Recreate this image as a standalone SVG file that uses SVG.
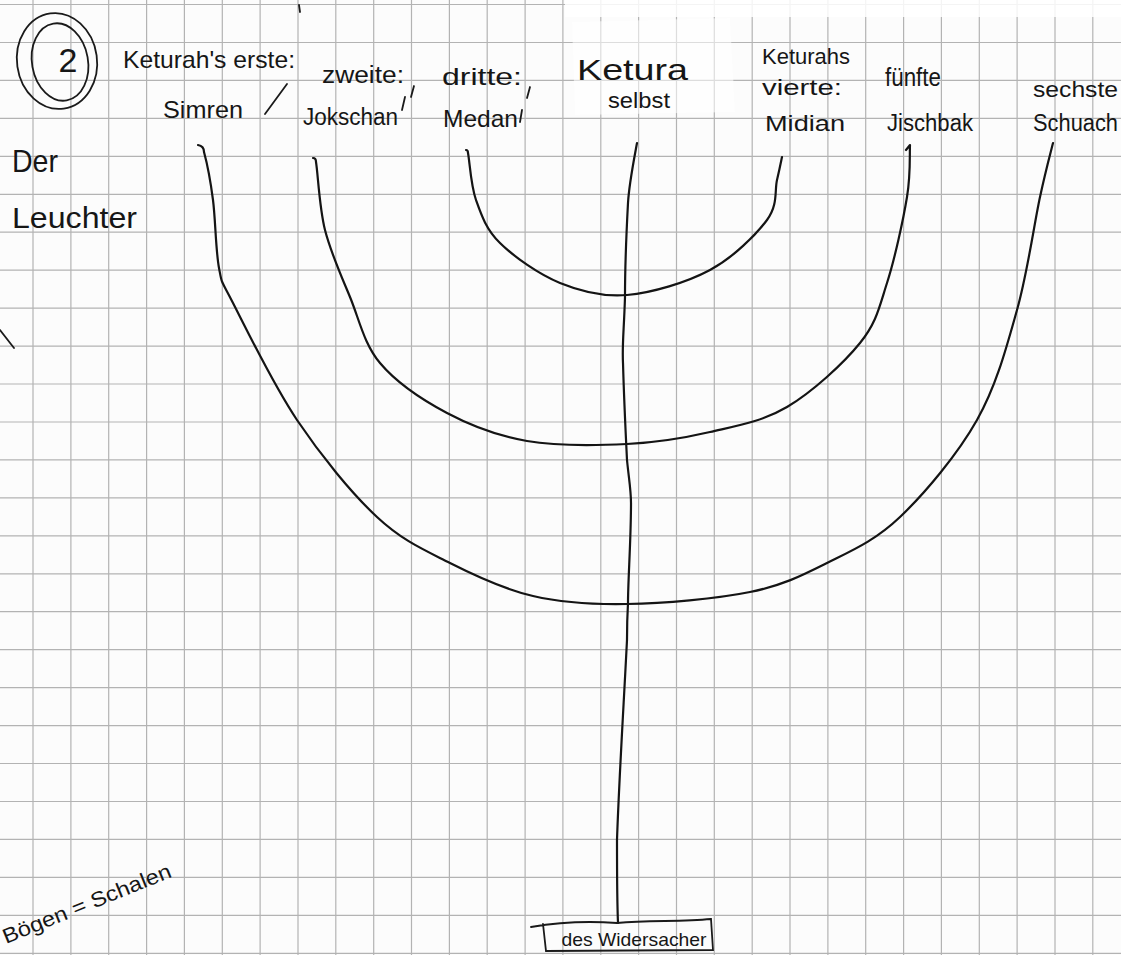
<svg xmlns="http://www.w3.org/2000/svg" width="1121" height="955" viewBox="0 0 1121 955">
<style>
.grid{fill:none;stroke:#b3b3b3;stroke-width:1.2}
.ink{fill:none;stroke:#141414;stroke-width:2.2;stroke-linecap:round;stroke-linejoin:round}
.pen{fill:none;stroke:#1a1a1a;stroke-width:1.8;stroke-linecap:round}
.t{font-family:"Liberation Sans","DejaVu Sans",sans-serif;fill:#161616}
</style>
<rect x="0" y="0" width="1121" height="955" fill="#fcfcfc"/>
<path class="grid" d="M33,0V955M70.9,0V955M108.7,0V955M146.6,0V955M184.4,0V955M222.3,0V955M260.1,0V955M298,0V955M335.8,0V955M373.7,0V955M411.5,0V955M449.4,0V955M487.2,0V955M525.1,0V955M562.9,0V955M600.8,0V955M638.6,0V955M676.5,0V955M714.3,0V955M752.2,0V955M790,0V955M827.9,0V955M865.7,0V955M903.6,0V955M941.4,0V955M979.3,0V955M1017.1,0V955M1055,0V955M1092.8,0V955
M0,4.5H1121M0,42.5H1121M0,80.4H1121M0,118.4H1121M0,156.3H1121M0,194.3H1121M0,232.2H1121M0,270.2H1121M0,308.1H1121M0,346.1H1121M0,384H1121M0,422H1121M0,459.9H1121M0,497.9H1121M0,535.8H1121M0,573.8H1121M0,611.7H1121M0,649.7H1121M0,687.6H1121M0,725.6H1121M0,763.5H1121M0,801.5H1121M0,839.4H1121M0,877.4H1121M0,915.3H1121M0,953.3H1121"/>
<rect x="565" y="0" width="556" height="17" fill="#ffffff" opacity="0.85"/>
<path d="M572,22 L730,18 L735,112 L575,115 Z" fill="#ffffff" opacity="0.55"/>

<g id="connectors">
<path id="outer-arc" class="ink" d="M198,145 Q204,146 204,152 C206.5,161.2 210.5,180.7 213,200 C215.5,219.3 215.7,250.8 219,268 C222.3,285.2 220,277.7 233,303 C246,328.3 273,384.3 297,420 C321,455.7 351.5,493.2 377,517 C402.5,540.8 424,549.8 450,563 C476,576.2 503.5,589.2 533,596 C562.5,602.8 590.8,604.7 627,604 C663.2,603.3 716.7,598.8 750,592 C783.3,585.2 802,575.5 827,563 C852,550.5 875,540.8 900,517 C925,493.2 957.5,454.5 977,420 C996.5,385.5 1006.5,347.2 1017,310 C1027.5,272.8 1034,224.8 1040,197 C1046,169.2 1050.8,152 1053,143"/>
<path id="middle-arc" class="ink" d="M313,158 Q316,158 316,162 C318,174 319.3,207.5 325,230 C330.7,252.5 340.8,274.8 350,297 C359.2,319.2 363.8,343.7 380,363 C396.2,382.3 422.5,400 447,413 C471.5,426 497,435.8 527,441 C557,446.2 596.5,445.5 627,444 C657.5,442.5 683.3,438.2 710,432 C736.7,425.8 762,421.8 787,407 C812,392.2 843.3,363.7 860,343 C876.7,322.3 879.2,307.3 887,283 C894.8,258.7 903.2,220 907,197 C910.8,174 909.5,153.7 910,145 L906,150"/>
<path id="inner-arc" class="ink" d="M466,150 Q468,150 468,153 C469.7,161.3 470.7,185 476,200 C481.3,215 486,229.2 500,243 C514,256.8 538.8,274.3 560,283 C581.2,291.7 602,297.2 627,295 C652,292.8 686.7,282.5 710,270 C733.3,257.5 755.8,235 767,220 C778.2,205 774.5,190.5 777,180 C779.5,169.5 781.2,160.8 782,157"/>
<path id="stem" class="ink" d="M637,143 C632,170 629,185 628,203 C626,240 625,270 625,297 C624,330 622,345 623,363 C624,400 626,440 627,460 C629,480 631,490 631,503 C631,540 628,580 628,603 C627,620 627,630 627,640 C624,700 619,780 617,840 C617,870 617,900 618,923"/>
</g>

<g id="node-number">
<ellipse class="pen" cx="57" cy="61" rx="40" ry="48" transform="rotate(-8 57 61)"/>
<ellipse class="pen" cx="60" cy="62" rx="28" ry="39" transform="rotate(-10 60 62)"/>
<text class="t" x="68" y="72" font-size="34" text-anchor="middle">2</text>
</g>

<g id="node-title">
<text class="t" x="12" y="172" font-size="32" textLength="46" lengthAdjust="spacingAndGlyphs">Der</text>
<text class="t" x="12" y="228" font-size="30" textLength="125" lengthAdjust="spacingAndGlyphs">Leuchter</text>
</g>

<g id="node-simren">
<text class="t" x="123" y="68" font-size="24" textLength="172" lengthAdjust="spacingAndGlyphs">Keturah's erste:</text>
<text class="t" x="163" y="118" font-size="24" textLength="80" lengthAdjust="spacingAndGlyphs">Simren</text>
<path class="pen" d="M287,84 L265,114"/>
</g>

<g id="node-jokschan">
<text class="t" x="322" y="83" font-size="23" textLength="82" lengthAdjust="spacingAndGlyphs">zweite:</text>
<path class="pen" d="M414,86 L411,97"/>
<text class="t" x="303" y="125" font-size="23" textLength="95" lengthAdjust="spacingAndGlyphs">Jokschan</text>
<path class="pen" d="M405,97 L402,110"/>
</g>

<g id="node-medan">
<text class="t" x="442" y="85" font-size="24" textLength="80" lengthAdjust="spacingAndGlyphs">dritte:</text>
<path class="pen" d="M530,87 L527,98"/>
<text class="t" x="443" y="127" font-size="24" textLength="75" lengthAdjust="spacingAndGlyphs">Medan</text>
<path class="pen" d="M522,110 L520,122"/>
</g>

<g id="node-ketura">
<text class="t" x="577" y="80" font-size="30" textLength="111" lengthAdjust="spacingAndGlyphs">Ketura</text>
<text class="t" x="608" y="108" font-size="22" textLength="62" lengthAdjust="spacingAndGlyphs">selbst</text>
</g>

<g id="node-midian">
<text class="t" x="762" y="64" font-size="22" textLength="88" lengthAdjust="spacingAndGlyphs">Keturahs</text>
<text class="t" x="762" y="95" font-size="22" textLength="80" lengthAdjust="spacingAndGlyphs">vierte:</text>
<text class="t" x="765" y="131" font-size="22" textLength="80" lengthAdjust="spacingAndGlyphs">Midian</text>
</g>

<g id="node-jischbak">
<text class="t" x="885" y="86" font-size="26" textLength="56" lengthAdjust="spacingAndGlyphs">fünfte</text>
<text class="t" x="887" y="131" font-size="23" textLength="86" lengthAdjust="spacingAndGlyphs">Jischbak</text>
</g>

<g id="node-schuach">
<text class="t" x="1033" y="97" font-size="22" textLength="85" lengthAdjust="spacingAndGlyphs">sechste</text>
<text class="t" x="1033" y="131" font-size="23" textLength="85" lengthAdjust="spacingAndGlyphs">Schuach</text>
</g>

<g id="node-base">
<path class="pen" d="M531,927 C560,922 590,921 617,923 C650,920 680,922 711,919 L713,950 L546,951 L543,924"/>
<text class="t" x="634" y="946" font-size="19" text-anchor="middle" textLength="145" lengthAdjust="spacingAndGlyphs">des Widersacher</text>
</g>

<g id="node-note">
<text class="t" transform="translate(6,944) rotate(-22)" font-size="21" textLength="180" lengthAdjust="spacingAndGlyphs">Bögen = Schalen</text>
</g>

<path class="pen" d="M0,330 L14,348"/>
<path class="pen" d="M299,5 L300,12"/>
</svg>
